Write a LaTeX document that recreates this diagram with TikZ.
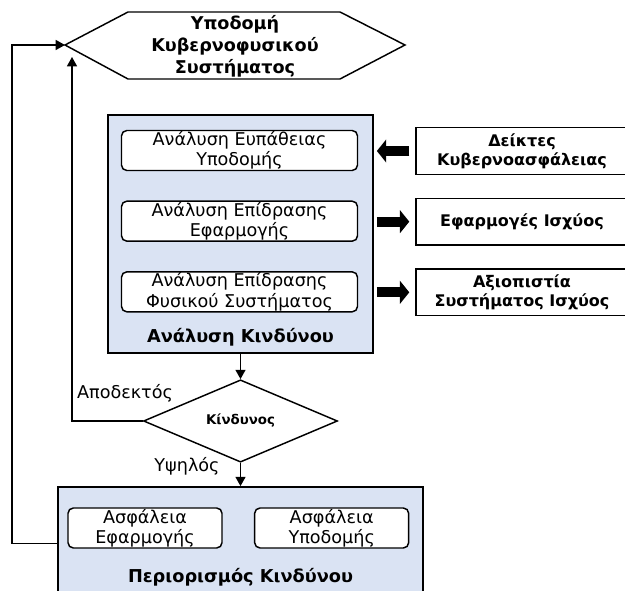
\documentclass[tikz,border=0pt]{standalone}
\usepackage{fontspec}
\setmainfont{DejaVu Sans}
\usetikzlibrary{positioning,shapes.geometric,arrows.meta}
\definecolor{riskblue}{HTML}{DAE3F3}

\begin{document}
\begin{tikzpicture}
	[x=0.75pt, y=-0.75pt,
	node distance=53pt,
	line width=1.1pt,
	>={Triangle[length=7pt,width=7.5pt]},
	panel/.style = {draw, fill=riskblue, line width=1.3pt, inner sep=0pt},
	inbox/.style = {draw, fill=white, rounded corners=4pt, align=center, minimum width=177pt, minimum height=30pt, inner sep=0pt, font=\fontsize{13.2}{15.2}\selectfont},
	sidebox/.style = {draw, fill=white, align=center, minimum width=159pt, minimum height=35pt, inner sep=0pt, font=\bfseries\fontsize{12}{14.5}\selectfont},
	fat/.style = {line width=7.5pt, -{Triangle[length=7pt,width=17pt]}},
	tag/.style = {font=\fontsize{13.2}{15}\selectfont},
	title/.style = {font=\bfseries\fontsize{13.3}{15}\selectfont}]
\useasboundingbox (0,0) rectangle (625,591);
\clip (0,0) rectangle (625,591);
% cyber-physical infrastructure
\coordinate (hexw) at (65,45);
\coordinate (hexin) at (72,57);
\draw[fill=white] (hexw) -- (128,12) -- (340,12) -- (405,45) -- (340,79) -- (128,79) -- cycle;
\node[align=center, font=\bfseries\fontsize{13.2}{16.5}\selectfont] (hex) at (235,46) {Υποδομή\\Κυβερνοφυσικού\\Συστήματος};
% risk analysis
\node[panel, minimum width=198.75pt, minimum height=178.5pt] (risk) at (240.5,234) {};
\node[title] (risktitle) at (240.5,337) {Ανάλυση Κινδύνου};
\node[inbox] (ia) at (239.5,150.5) {Ανάλυση Ευπάθειας\\Υποδομής};
\node[inbox] (ib) [below of=ia] {Ανάλυση Επίδρασης\\Εφαρμογής};
\node[inbox] (ic) [below of=ib] {Ανάλυση Επίδρασης\\Φυσικού Συστήματος};
% side inputs
\node[sidebox] (da) at (522,151) {Δείκτες\\Κυβερνοασφάλειας};
\node[sidebox] (db) [below of=da] {Εφαρμογές Ισχύος};
\node[sidebox] (dc) [below of=db] {Αξιοπιστία\\Συστήματος Ισχύος};
\draw[fat, shorten <=4.5pt, shorten >=2.25pt] (da.west) -- (da.west -| risk.east);
\draw[fat, shorten <=2.25pt, shorten >=4.5pt] (risk.east |- db.west) -- (db.west);
\draw[fat, shorten <=2.25pt, shorten >=4.5pt] (risk.east |- dc.west) -- (dc.west);
% decision
\node[draw, diamond, fill=white, minimum width=145.5pt, minimum height=43.5pt, inner sep=0pt, font=\bfseries\fontsize{10}{12}\selectfont] (dec) at (240.5,421) {Κίνδυνος};
% risk limitation
\node[panel, minimum width=273.75pt, minimum height=84.75pt] (limit) at (240.5,543.5) {};
\node[title] (limtitle) at (240.5,577) {Περιορισμός Κινδύνου};
\node[inbox, minimum width=115.5pt, minimum height=30pt] (sa) at (145,528) {Ασφάλεια\\Εφαρμογής};
\node[inbox, minimum width=115.5pt, minimum height=30pt] (sb) [right of=sa, node distance=140pt] {Ασφάλεια\\Υποδομής};
% flow
\draw[->] (risk) -- (dec);
\draw[->] (dec) -- (limit);
\draw[->] (dec.west) -| (hexin);
\draw[->] (limit.west) -- ++(-45,0) |- (hexw);
\node[tag] (ok) at (125,393) {Αποδεκτός};
\node[tag] (high) at (187,466) {Υψηλός};
\end{tikzpicture}
\end{document}
